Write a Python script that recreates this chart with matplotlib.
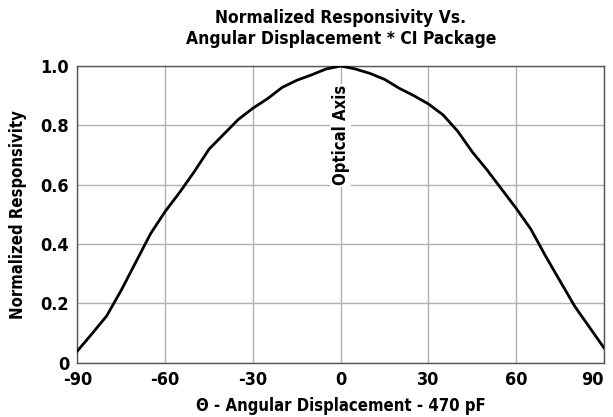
import matplotlib
matplotlib.use("Agg")
import matplotlib.pyplot as plt

# valores
angulos = [-90, -85, -80, -75, -70, -65, -60, -55, -50, -45, -40, -35, -30, -25, -20, -15, -10, -5,
           0, 5, 10, 15, 20, 25, 30, 35, 40, 45, 50, 55, 60, 65, 70, 75, 80, 85, 90]
respuesta = [0.04, 0.098, 0.158, 0.245, 0.34, 0.435, 0.51, 0.575, 0.645, 0.72, 0.77, 0.82, 0.858,
             0.89, 0.928, 0.952, 0.97, 0.99,
             1.0, 0.99, 0.975, 0.955, 0.925, 0.9, 0.872, 0.835, 0.78, 0.71, 0.65, 0.585, 0.52,
             0.45, 0.36, 0.275, 0.19, 0.12, 0.05]
xticks = [-90, -60, -30, 0, 30, 60, 90]
yticks = [0, 0.2, 0.4, 0.6, 0.8, 1.0]
yticklabels = ["0", "0.2", "0.4", "0.6", "0.8", "1.0"]

plt.rcParams['font.family'] = ['DejaVu Sans']
plt.rcParams['font.stretch'] = 'condensed'
plt.rcParams['font.weight'] = 'bold'
plt.rcParams['axes.unicode_minus'] = False

fig = plt.figure(figsize=(6.13, 4.17), dpi=100)
ax = fig.add_axes([0.1264, 0.1302, 0.8589, 0.7115])

ax.plot(angulos, respuesta, color='black', lw=2, zorder=3)

ax.set_xlim(-90, 90)
ax.set_ylim(0, 1.0)
ax.set_xticks(xticks)
ax.set_yticks(yticks)
ax.set_yticklabels(yticklabels)
ax.tick_params(length=0, labelsize=13, pad=6)
for lab in ax.get_xticklabels() + ax.get_yticklabels():
    lab.set_fontweight('bold')
# el 90 se sale del borde, lo alineo a la derecha
ax.get_xticklabels()[-1].set_horizontalalignment('right')
ax.grid(True, color='#b0b0b0', lw=1)
ax.set_axisbelow(True)
for s in ax.spines.values():
    s.set_color('#555555')
    s.set_linewidth(1)

ax.text(0, 0.767, "Optical Axis", rotation=90, ha='center', va='center', fontsize=12,
        fontweight='bold', bbox=dict(facecolor='white', edgecolor='none', pad=1), zorder=2)

ax.set_title("Normalized Responsivity Vs.\nAngular Displacement * CI Package", fontsize=12.5,
             fontweight='bold', pad=16, linespacing=1.2)
ax.set_xlabel("Θ - Angular Displacement - 470 pF", fontsize=12, fontweight='bold', labelpad=6)
ax.set_ylabel("Normalized Responsivity", fontsize=12, fontweight='bold', labelpad=10)

fig.savefig("out.png", dpi=100)
